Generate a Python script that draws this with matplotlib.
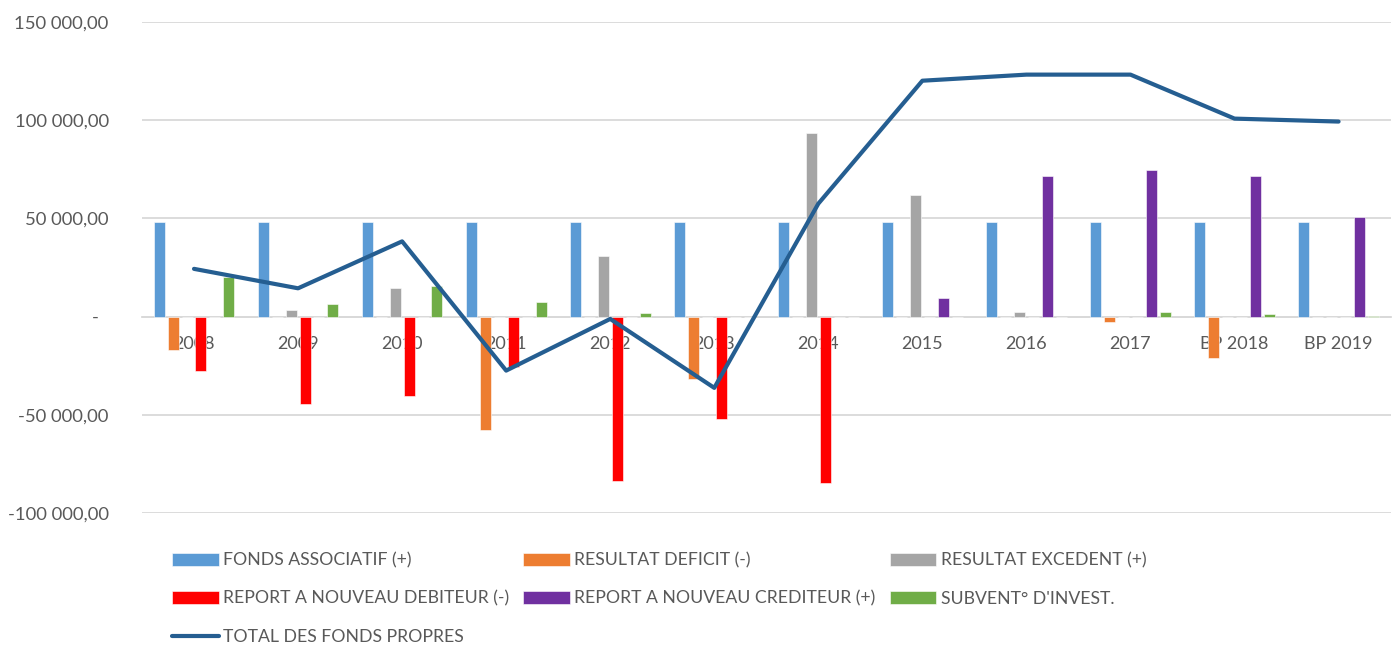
import numpy as np
import matplotlib
matplotlib.use("Agg")
import matplotlib.pyplot as plt
from matplotlib.ticker import FuncFormatter

plt.rcParams['font.family'] = ['Lato', 'DejaVu Sans']

years = ['2008', '2009', '2010', '2011', '2012', '2013', '2014', '2015',
         '2016', '2017', 'BP 2018', 'BP 2019']

fonds_associatif = [48000] * 12
resultat_deficit = [-17000, 0, 0, -57500, 0, -32000, 0, 0, 0, -3000, -21000, 0]
resultat_excedent = [0, 3500, 14500, 0, 31000, 0, 93700, 62000, 2500, 0, 0, 0]
report_debiteur = [-27500, -44500, -40500, -25500, -83500, -52000, -84500, 0, 0, 0, 0, 0]
report_crediteur = [0, 0, 0, 0, 0, 0, 0, 9500, 71800, 74800, 71800, 50500]
subvention = [20000, 6500, 15500, 7600, 2000, 0, 0, 0, 0, 2500, 1500, 500]
total_fonds = [24300, 14400, 38300, -27500, -1200, -36300, 57500, 120100,
               123200, 123200, 100800, 99300]

series = [
    ('FONDS ASSOCIATIF (+)', fonds_associatif, '#5b9bd5'),
    ('RESULTAT DEFICIT (-)', resultat_deficit, '#ed7d31'),
    ('RESULTAT EXCEDENT (+)', resultat_excedent, '#a5a5a5'),
    ('REPORT A NOUVEAU DEBITEUR (-)', report_debiteur, '#ff0000'),
    ('REPORT A NOUVEAU CREDITEUR (+)', report_crediteur, '#7030a0'),
    ("SUBVENT° D'INVEST.", subvention, '#70ad47'),
]

fig = plt.figure(figsize=(13.92, 6.45), dpi=100)
ax = fig.add_axes([0.102, 0.2047, 0.897, 0.7612])

x = np.arange(len(years))
slot = 0.134
width = 0.106
handles = []
for i, (name, vals, color) in enumerate(series):
    b = ax.bar(x + (i - 2.5) * slot, vals, width, color=color, label=name,
               edgecolor='white', linewidth=0.4, zorder=2)
    handles.append(b)

line, = ax.plot(x, total_fonds, color='#255e91', linewidth=3, zorder=3,
                solid_capstyle='round', label='TOTAL DES FONDS PROPRES')

ax.set_xlim(-0.5, len(years) - 0.5)
ax.set_ylim(-100000, 150000)
ax.set_yticks(np.arange(-100000, 150001, 50000))


def fr_fmt(v, pos):
    if v == 0:
        return '-  '
    s = f'{abs(v):,.2f}'.replace(',', ' ').replace('.', ',')
    return ('-' if v < 0 else '') + s


ax.yaxis.set_major_formatter(FuncFormatter(fr_fmt))
ax.grid(axis='y', color='#d9d9d9', linewidth=1.3, zorder=0)
ax.set_axisbelow(True)
for s in ['top', 'right', 'left']:
    ax.spines[s].set_visible(False)
ax.spines['bottom'].set_position(('data', 0))
ax.spines['bottom'].set_color('#d9d9d9')
ax.spines['bottom'].set_linewidth(1.3)
ax.spines['bottom'].set_zorder(1)

ax.set_xticks(x)
ax.set_xticklabels(years)
ax.tick_params(axis='x', length=0, pad=14, labelsize=13, labelcolor='#595959')
ax.tick_params(axis='y', length=0, pad=24, labelsize=13.3, labelcolor='#595959')

# matplotlib fills legend columns first
h = handles
order = [h[0], h[3], line, h[1], h[4], h[2], h[5]]
fig.legend(handles=order, labels=[o.get_label() for o in order], ncol=3,
           loc='upper left', bbox_to_anchor=(0.112, 0.168), frameon=False,
           fontsize=12.7, labelcolor='#595959', handlelength=2.65, handleheight=0.75,
           handletextpad=0.25, columnspacing=0.8, labelspacing=1.25)

fig.savefig('out.png', dpi=100)
